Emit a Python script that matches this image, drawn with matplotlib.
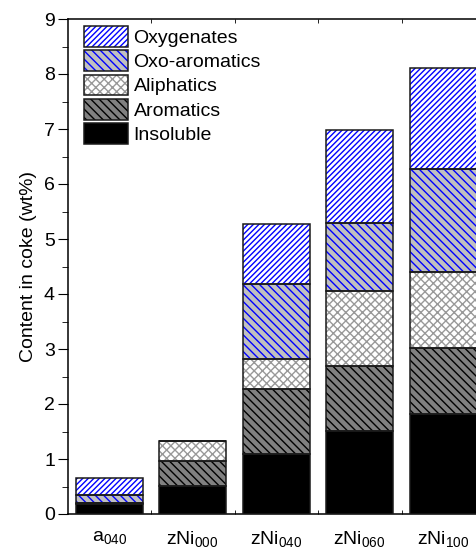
import matplotlib
matplotlib.use("Agg")
import matplotlib.pyplot as plt
import numpy as np
from matplotlib.patches import Patch
from matplotlib.legend_handler import HandlerTuple

plt.rcParams['font.family'] = ['Liberation Sans', 'DejaVu Sans']
plt.rcParams['mathtext.default'] = 'regular'
plt.rcParams['hatch.linewidth'] = 1.0

samples = ['a$_{040}$', 'zNi$_{000}$', 'zNi$_{040}$', 'zNi$_{060}$', 'zNi$_{100}$']
insoluble = [0.18, 0.51, 1.10, 1.51, 1.81]
aromatics = [0.02, 0.46, 1.18, 1.19, 1.21]
aliphatics = [0.00, 0.36, 0.54, 1.35, 1.38]
oxo_aromatics = [0.15, 0.00, 1.37, 1.24, 1.87]
oxygenates = [0.31, 0.00, 1.08, 1.70, 1.84]

# (label, values, face, hatch, hatch colour)
layers = [
    ('Insoluble', insoluble, 'black', '', 'black'),
    ('Aromatics', aromatics, '#808080', '\\\\\\\\', 'black'),
    ('Aliphatics', aliphatics, 'white', 'xxxx', '#999999'),
    ('Oxo-aromatics', oxo_aromatics, '#c0c0c0', '\\\\\\\\', 'blue'),
    ('Oxygenates', oxygenates, 'white', '//////', 'blue'),
]

fig = plt.figure(figsize=(4.76, 5.48), dpi=100)
ax = fig.add_axes([67.5 / 476, 34 / 548, (485 - 67.5) / 476, 495 / 548])

x = np.arange(1, len(samples) + 1)
bottom = np.zeros(len(samples))
handles = []
for label, vals, face, hatch, hcol in layers:
    vals = np.array(vals)
    ax.bar(x, vals, 0.8, bottom=bottom, color=face, hatch=hatch,
           edgecolor=hcol, linewidth=0, zorder=2)
    ax.bar(x, vals, 0.8, bottom=bottom, fill=False, edgecolor='#1a1a1a',
           linewidth=1.1, zorder=3)
    bottom = bottom + vals
    h1 = Patch(facecolor=face, hatch=hatch, edgecolor=hcol, linewidth=0)
    h2 = Patch(fill=False, edgecolor='#1a1a1a', linewidth=1.1)
    handles.append(((h1, h2), label))

handles = handles[::-1]
leg = ax.legend([h for h, _ in handles], [l for _, l in handles],
                handler_map={tuple: HandlerTuple(ndivide=1, pad=0)},
                loc='upper left', bbox_to_anchor=(16 / 417.5, 1 - 7 / 495),
                frameon=False, fontsize=14, handlelength=2.27,
                handleheight=1.25, handletextpad=0.3, labelspacing=0.18,
                borderaxespad=0, borderpad=0)

ax.set_xlim(0.5, 5.5)
ax.set_ylim(0, 9)
ax.set_xticks(x)
ax.set_xticklabels(samples, fontsize=14)
ax.set_xticks(np.arange(1.5, 5.5, 1), minor=True)
ax.tick_params(axis='x', which='major', length=0, pad=11)
ax.tick_params(axis='x', which='minor', direction='in', length=3, top=True)
ax.set_yticks(np.arange(0, 10, 1))
ax.set_yticks(np.arange(0.5, 9, 1), minor=True)
ax.tick_params(axis='y', which='major', direction='out', length=7, pad=2,
               labelsize=14)
ax.tick_params(axis='y', which='minor', direction='out', length=4)
ax.set_ylabel('Content in coke (wt%)', fontsize=14, labelpad=5)
for s in ax.spines.values():
    s.set_linewidth(1.1)

fig.savefig('out.png', dpi=100)
